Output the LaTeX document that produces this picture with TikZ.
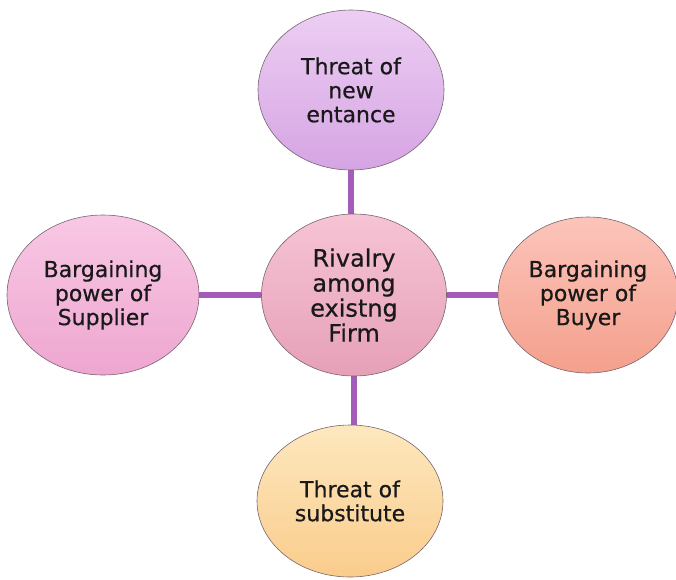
\documentclass[tikz,border=0pt]{standalone}
\usepackage{fontspec}
\setmainfont[FakeBold=0.5]{DejaVu Sans}
\usetikzlibrary{shapes.geometric,backgrounds}
\definecolor{linkc}{RGB}{163,93,184}
\definecolor{edgec}{RGB}{120,100,110}
\tikzset{
  force/.style={ellipse, draw=edgec, line width=0.6pt, inner sep=0pt, align=center,
    font=\fontsize{22}{24}\selectfont, text=black!90},
  link/.style={draw=linkc, line width=5.5pt}
}
\begin{document}
\begin{tikzpicture}[x=1pt,y=-1pt]
\useasboundingbox (0,0) rectangle (676,579);
\node[force, minimum width=186pt, minimum height=160pt, top color={rgb,255:red,236;green,206;blue,243}, bottom color={rgb,255:red,214;green,164;blue,228}] (entry) at (351,90) {Threat of\\new\\entance};
\node[force, minimum width=185pt, minimum height=162pt, font=\fontsize{24}{25}\selectfont, top color={rgb,255:red,246;green,196;blue,212}, bottom color={rgb,255:red,230;green,160;blue,184}] (rivalry) at (354,295) {Rivalry\\among\\existng\\Firm};
\node[force, minimum width=192pt, minimum height=160pt, top color={rgb,255:red,248;green,200;blue,228}, bottom color={rgb,255:red,238;green,166;blue,208}] (supplier) at (103,295) {Bargaining\\power of\\Supplier};
\node[force, minimum width=180pt, minimum height=156pt, top color={rgb,255:red,252;green,196;blue,186}, bottom color={rgb,255:red,244;green,160;blue,140}] (buyer) at (588,295) {Bargaining\\power of\\Buyer};
\node[force, minimum width=186pt, minimum height=152pt, top color={rgb,255:red,253;green,232;blue,190}, bottom color={rgb,255:red,250;green,204;blue,140}] (subst) at (350,501) {Threat of\\substitute};
\begin{scope}[on background layer]
\draw[link] (entry.south) -- (entry.south |- rivalry.north);
\draw[link] (rivalry.south) -- (rivalry.south |- subst.north);
\draw[link] (supplier.east) -- (rivalry.west);
\draw[link] (rivalry.east) -- (buyer.west);
\end{scope}
\end{tikzpicture}
\end{document}
